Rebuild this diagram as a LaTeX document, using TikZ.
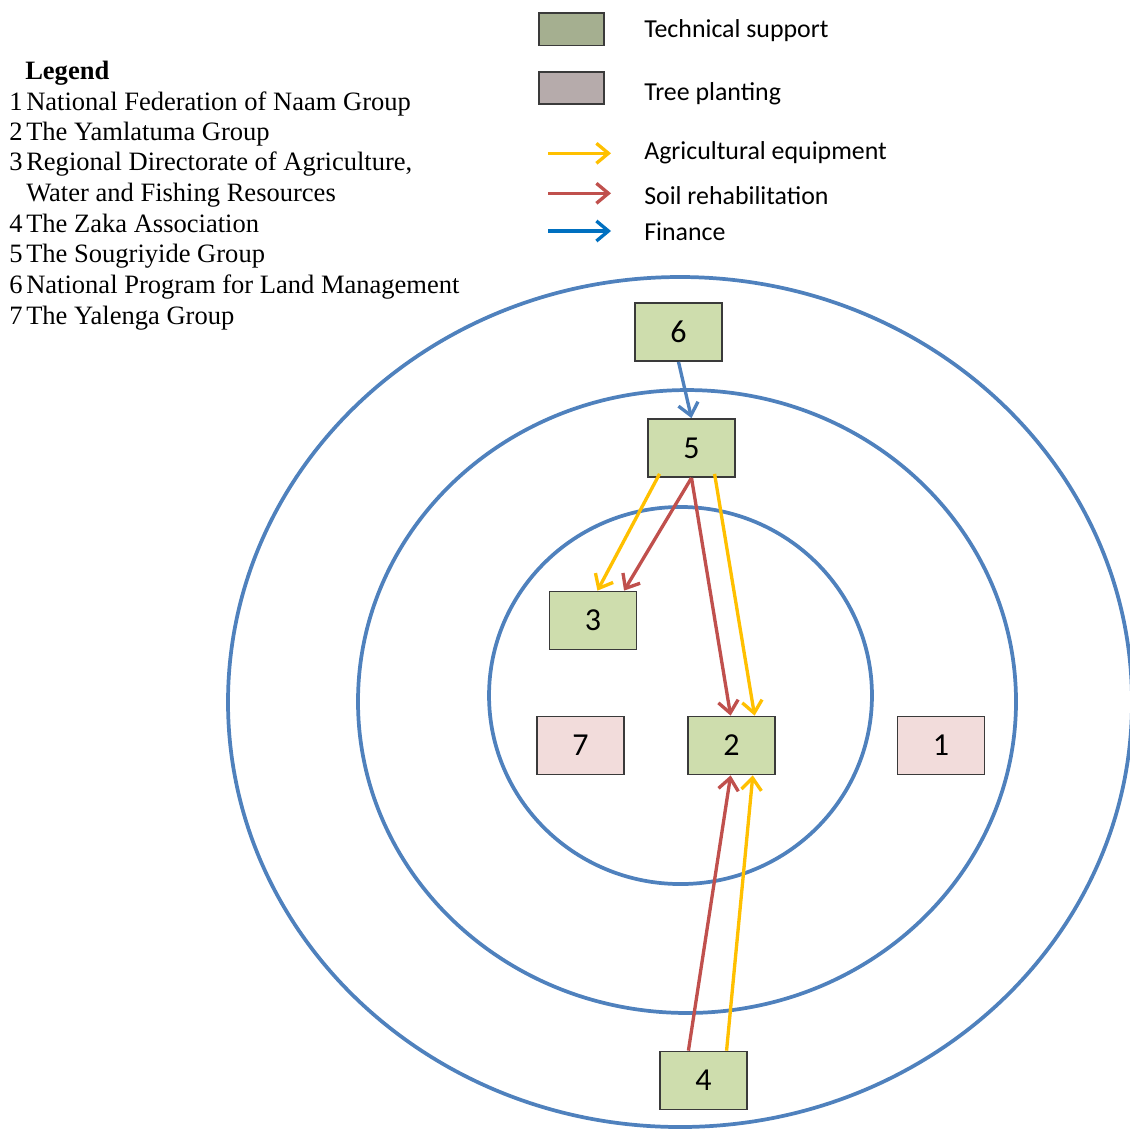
\documentclass[tikz,border=0pt]{standalone}
\usepackage{fontspec}
\setmainfont{Liberation Serif}
\newfontfamily\calib{Carlito}
\usetikzlibrary{arrows.meta,calc}
\definecolor{ringblue}{HTML}{4F81BD}
\definecolor{boxgreen}{HTML}{CEDDAD}
\definecolor{boxpink}{HTML}{F2DCDB}
\definecolor{legtech}{HTML}{A5AF90}
\definecolor{legtree}{HTML}{B6ABAB}
\definecolor{aryellow}{HTML}{FFC000}
\definecolor{arred}{HTML}{C0504D}
\definecolor{arblue}{HTML}{0070C0}
\definecolor{edgegray}{HTML}{3A3A3A}
\tikzset{
  ring/.style={draw=ringblue,line width=2.8pt},
  orgbox/.style={rectangle,draw=edgegray,line width=1.3pt,minimum width=65.25pt,minimum height=43.5pt,inner sep=0pt,font=\calib\fontsize{24}{28}\selectfont},
  tech/.style={orgbox,fill=boxgreen},
  tree/.style={orgbox,fill=boxpink},
  legbox/.style={rectangle,draw=edgegray,line width=1.3pt,minimum width=48.75pt,minimum height=24.5pt,inner sep=0pt},
  flow/.style={line width=2.5pt,-{Straight Barb[length=9pt,width=15pt]}},
  yflow/.style={flow,draw=aryellow},
  rflow/.style={flow,draw=arred},
  bflow/.style={flow,draw=ringblue},
  legtxt/.style={anchor=base west,inner sep=0pt,font=\fontsize{19.9}{23}\selectfont},
  keytxt/.style={anchor=base west,inner sep=0pt,font=\calib\fontsize{19.4}{23}\selectfont}
}
\begin{document}
\begin{tikzpicture}[x=0.75pt,y=-0.75pt]
\useasboundingbox (0,0) rectangle (1130,1129);
\clip (0,0) rectangle (1130,1129);
% rings
\draw[ring] (680,702) ellipse [x radius=339pt, y radius=318.75pt];
\draw[ring] (687,701.5) ellipse [x radius=246.75pt, y radius=233.6pt];
\draw[ring] (680.5,695.5) ellipse [x radius=143.6pt, y radius=141.4pt];
% organisations
\node[tech] (n6) at (678.5,332) {6};
\node[tech] (n5) at (691.5,448) {5};
\node[tech] (n3) at (593,620.5) {3};
\node[tree] (n7) at (580.5,745.5) {7};
\node[tech] (n2) at (731.5,745.5) {2};
\node[tree] (n1) at (941,745.5) {1};
\node[tech] (n4) at (703.5,1080.5) {4};
% flows
\draw[bflow] ($(n6.south west)!0.5!(n6.south east)$) -- ($(n5.north west)!0.5!(n5.north east)$);
\draw[yflow] ($(n5.south west)!0.14!(n5.south east)+(0,-4)$) -- ($(n3.north west)!0.55!(n3.north east)$);
\draw[rflow] ($(n5.south west)!0.5!(n5.south east)$) -- ($(n3.north west)!0.85!(n3.north east)$);
\draw[rflow] ($(n5.south west)!0.5!(n5.south east)$) -- ($(n2.north west)!0.49!(n2.north east)$);
\draw[yflow] ($(n5.south west)!0.76!(n5.south east)+(0,-4)$) -- ($(n2.north west)!0.76!(n2.north east)$);
\draw[rflow] ($(n4.north west)!0.33!(n4.north east)$) -- ($(n2.south west)!0.49!(n2.south east)$);
\draw[yflow] ($(n4.north west)!0.76!(n4.north east)$) -- ($(n2.south west)!0.74!(n2.south east)$);
% key (top right)
\node[legbox,fill=legtech] (k1) at (571.5,29.2) {};
\node[legbox,fill=legtree] (k2) at (571.5,88) {};
\node[keytxt] (k1t) at (644,37.3) {Technical support};
\node[keytxt] (k2t) at (644,100) {Tree planting};
\coordinate (ya) at (548,153.3); \coordinate (yb) at (611,153.3);
\coordinate (ra) at (548,193.3); \coordinate (rb) at (611,193.3);
\coordinate (ba) at (548,231);   \coordinate (bb) at (611,231);
\draw[yflow] (ya) -- (yb);
\draw[rflow] (ra) -- (rb);
\draw[flow,draw=arblue] (ba) -- (bb);
\node[keytxt] (k3t) at (644,159) {Agricultural equipment};
\node[keytxt] (k4t) at (644,204) {Soil rehabilitation};
\node[keytxt] (k5t) at (644,240.7) {Finance};
% legend (top left)
\node[legtxt,font=\bfseries\fontsize{19.9}{23}\selectfont] (lg) at (25,79.3) {Legend};
\foreach \n/\yy/\t in {1/110/National Federation of Naam Group,
                       2/140.7/The Yamlatuma Group,
                       3/170.9/{Regional Directorate of Agriculture,},
                       4/232.7/The Zaka Association,
                       5/262.9/The Sougriyide Group,
                       6/293.3/National Program for Land Management,
                       7/324/The Yalenga Group}{
  \node[legtxt] (ln\n) at (9,\yy) {\n};
  \node[legtxt] (lt\n) at (26,\yy) {\t};
}
\node[legtxt] (lt3b) at (26,201.7) {Water and Fishing Resources};
\end{tikzpicture}
\end{document}
